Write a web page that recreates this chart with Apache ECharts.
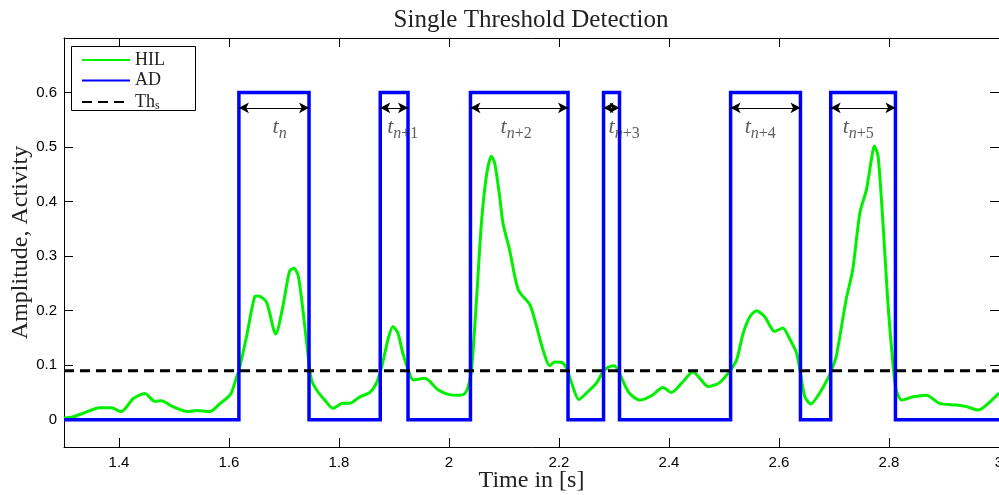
<!DOCTYPE html>
<html>
<head>
<meta charset="utf-8">
<script src="https://cdn.jsdelivr.net/npm/echarts@6/dist/echarts.min.js"></script>
<style>
  html, body { margin: 0; padding: 0; background: #fff; }
  #chart { width: 999px; height: 495px; }
</style>
</head>
<body>
<div id="chart"></div>
<script>
// Smoothed HIL signal (time in s, amplitude)
const hilTime = [1.300,1.316,1.340,1.365,1.386,1.404,1.426,1.447,1.465,1.477,1.498,1.525,1.541,1.565,1.583,1.603,1.614,1.618,
  1.632,1.647,1.653,1.668,1.685,1.698,1.710,1.718,1.726,1.735,1.744,1.750,1.759,1.774,1.789,1.807,1.819,1.838,1.856,1.868,
  1.877,1.889,1.898,1.907,1.916,1.926,1.935,1.956,1.980,2.000,2.020,2.029,2.035,2.041,2.050,2.059,2.068,2.077,2.083,2.092,
  2.098,2.110,2.126,2.147,2.156,2.171,2.183,2.192,2.205,2.214,2.222,2.236,2.250,2.268,2.280,2.289,2.301,2.310,2.327,2.347,
  2.368,2.389,2.404,2.423,2.444,2.456,2.471,2.492,2.511,2.523,2.535,2.547,2.559,2.574,2.592,2.607,2.620,2.632,2.638,2.647,
  2.658,2.674,2.689,2.695,2.704,2.722,2.734,2.747,2.759,2.768,2.773,2.780,2.789,2.798,2.807,2.813,2.823,2.844,2.868,2.892,
  2.923,2.941,2.962,2.977,3.000];
const hilValue = [0.003,0.005,0.014,0.022,0.022,0.015,0.039,0.048,0.034,0.035,0.024,0.015,0.017,0.015,0.029,0.047,0.079,0.090,
  0.153,0.226,0.227,0.216,0.157,0.208,0.272,0.278,0.263,0.196,0.116,0.073,0.055,0.036,0.021,0.030,0.030,0.042,0.050,0.067,
  0.094,0.147,0.171,0.159,0.122,0.091,0.073,0.076,0.055,0.046,0.045,0.048,0.061,0.091,0.220,0.361,0.447,0.483,0.471,0.410,
  0.361,0.312,0.238,0.211,0.183,0.128,0.099,0.106,0.105,0.094,0.070,0.037,0.049,0.067,0.088,0.096,0.099,0.085,0.050,0.036,
  0.044,0.059,0.050,0.067,0.088,0.076,0.061,0.068,0.090,0.110,0.159,0.189,0.200,0.189,0.162,0.168,0.147,0.122,0.091,0.042,
  0.029,0.049,0.076,0.090,0.116,0.220,0.275,0.379,0.422,0.477,0.502,0.484,0.361,0.214,0.104,0.055,0.036,0.042,0.045,0.030,
  0.027,0.024,0.018,0.027,0.049];

// Activity detector: switch-on and switch-off times
const adRise = [1.618, 1.875, 2.039, 2.281, 2.512, 2.694];
const adFall = [1.7455, 1.9255, 2.2164, 2.310, 2.639, 2.8117];
const adHigh = 0.6;
const adLow = 0;

// Detection threshold
const threshold = 0.09;

// Duration annotations
const durationSubs = ['n', 'n+1', 'n+2', 'n+3', 'n+4', 'n+5'];
const durationLabelX = [1.692, 1.916, 2.122, 2.3185, 2.566, 2.744];
const arrowLevel = 0.572;
const durationLabelY = 0.536;

// Axis ticks
const xTicks = [1.4, 1.6, 1.8, 2, 2.2, 2.4, 2.6, 2.8, 3];
const yTicks = [0, 0.1, 0.2, 0.3, 0.4, 0.5, 0.6];
const xRange = [1.3, 3];
const yRange = [-0.05, 0.7];

const serif = '"Liberation Serif", "DejaVu Serif", serif';
const sans = '"Liberation Sans", Arial, sans-serif';

const hilData = hilTime.map((t, i) => [t, hilValue[i]]);

const adData = [[xRange[0], adLow]];
adRise.forEach((r, i) => {
  adData.push([r, adLow], [r, adHigh], [adFall[i], adHigh], [adFall[i], adLow]);
});
adData.push([xRange[1], adLow]);

const thData = [[xRange[0], threshold], [xRange[1], threshold]];

const arrowLines = adRise.map((r, i) => [
  { coord: [r, arrowLevel] },
  { coord: [adFall[i], arrowLevel] }
]);

const labelData = durationLabelX.map((x, i) => ({ value: [x, durationLabelY], sub: durationSubs[i] }));

const chart = echarts.init(document.getElementById('chart'), null, { renderer: 'canvas' });

const axisCommon = {
  axisLine: { show: true, onZero: false, lineStyle: { color: '#000', width: 1 } },
  axisTick: { inside: true, length: 9, lineStyle: { color: '#000', width: 1 } },
  splitLine: { show: false }
};

chart.setOption({
  animation: false,
  backgroundColor: '#fff',
  title: {
    text: 'Single Threshold Detection',
    left: 526,
    textAlign: 'center',
    top: 3,
    textStyle: { fontFamily: serif, fontWeight: 'normal', fontSize: 25, color: '#222' }
  },
  grid: { left: 64, right: 0, top: 38, bottom: 48, containLabel: false, outerBoundsMode: 'none' },
  legend: {
    orient: 'vertical',
    left: 71,
    top: 48,
    z: 20,
    padding: [3, 6, 2, 10],
    itemWidth: 48,
    itemHeight: 14,
    itemGap: 2.5,
    data: ['HIL', 'AD', 'Ths'],
    formatter: name => name === 'Ths' ? 'Th{s|s}' : name,
    itemStyle: { opacity: 0 },
    textStyle: {
      fontFamily: serif, fontSize: 18, lineHeight: 18, color: '#222',
      rich: { s: { fontFamily: serif, fontSize: 12, color: '#222', verticalAlign: 'bottom', lineHeight: 20 } }
    }
  },
  graphic: [{
    type: 'rect',
    z: 10,
    shape: { x: 71.5, y: 46.5, width: 124, height: 64 },
    style: { fill: '#fff', stroke: '#000', lineWidth: 1 }
  }],
  xAxis: [
    Object.assign({}, axisCommon, {
      type: 'value', min: xRange[0], max: xRange[1], position: 'bottom',
      name: 'Time in [s]', nameLocation: 'middle', nameGap: 22, nameMoveOverlap: false,
      nameTextStyle: { fontFamily: serif, fontSize: 24, color: '#222' },
      axisTick: Object.assign({}, axisCommon.axisTick, { customValues: xTicks }),
      axisLabel: { customValues: xTicks, margin: 8, fontFamily: sans, fontSize: 15, color: '#000' }
    }),
    Object.assign({}, axisCommon, {
      type: 'value', min: xRange[0], max: xRange[1], position: 'top',
      axisTick: Object.assign({}, axisCommon.axisTick, { customValues: xTicks }),
      axisLabel: { show: false }
    })
  ],
  yAxis: [
    Object.assign({}, axisCommon, {
      type: 'value', min: yRange[0], max: yRange[1], position: 'left',
      name: 'Amplitude, Activity', nameLocation: 'middle', nameGap: 31, nameMoveOverlap: false,
      nameTextStyle: { fontFamily: serif, fontSize: 24, color: '#222' },
      axisTick: Object.assign({}, axisCommon.axisTick, { customValues: yTicks }),
      axisLabel: { customValues: yTicks, margin: 7, fontFamily: sans, fontSize: 15, color: '#000' }
    }),
    Object.assign({}, axisCommon, {
      type: 'value', min: yRange[0], max: yRange[1], position: 'right',
      axisTick: Object.assign({}, axisCommon.axisTick, { customValues: yTicks }),
      axisLabel: { show: false }
    })
  ],
  series: [
    {
      name: 'HIL', type: 'line', data: hilData, smooth: 0.25,
      symbol: 'none', z: 3,
      lineStyle: { color: '#00f000', width: 3 },
      itemStyle: { color: '#00f000' }
    },
    {
      name: 'AD', type: 'line', data: adData,
      symbol: 'none', z: 4,
      lineStyle: { color: '#0000ff', width: 3.5, join: 'miter' },
      itemStyle: { color: '#0000ff' },
      markLine: {
        silent: true,
        symbol: ['arrow', 'arrow'],
        symbolSize: [8, 10],
        label: { show: false },
        lineStyle: { color: '#000', width: 1, type: 'solid' },
        itemStyle: { color: '#000' },
        emphasis: { disabled: true },
        data: arrowLines
      }
    },
    {
      name: 'Ths', type: 'line', data: thData,
      symbol: 'none', z: 5,
      lineStyle: { color: '#000', width: 3, type: [10, 6] },
      itemStyle: { color: '#000' }
    },
    {
      name: 'durations', type: 'scatter', data: labelData,
      symbolSize: 0, silent: true, z: 6,
      label: {
        show: true, position: 'inside',
        formatter: p => {
          const sub = p.data.sub;
          const head = sub.charAt(0);
          const tail = sub.slice(1);
          return '{t|t}{n|' + head + '}' + (tail ? '{p|' + tail + '}' : '');
        },
        rich: {
          t: { fontFamily: serif, fontStyle: 'italic', fontSize: 22, color: '#333', lineHeight: 28, verticalAlign: 'middle' },
          n: { fontFamily: serif, fontStyle: 'italic', fontSize: 16, color: '#333', lineHeight: 28, verticalAlign: 'bottom' },
          p: { fontFamily: serif, fontSize: 16, color: '#333', lineHeight: 28, verticalAlign: 'bottom' }
        }
      }
    }
  ]
});
</script>
</body>
</html>
